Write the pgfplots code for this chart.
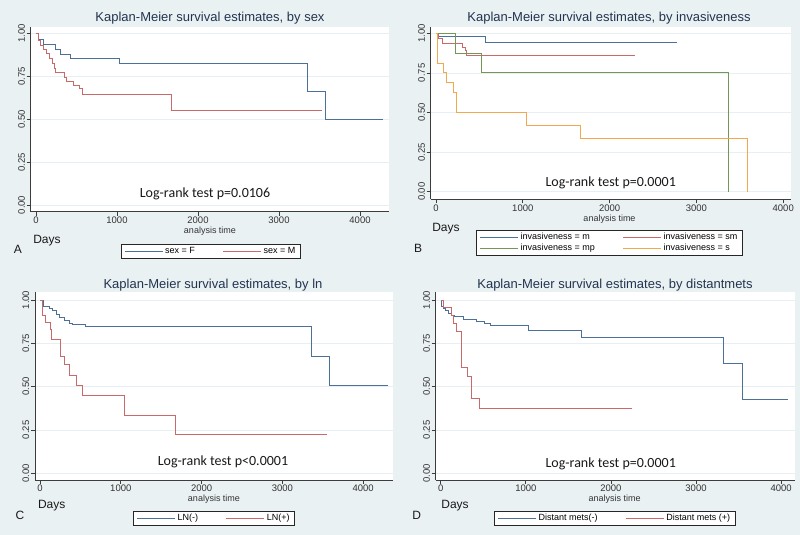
\documentclass[border=0pt]{standalone}
\usepackage{pgfplots}
\pgfplotsset{compat=1.18}
\usepackage{fontspec}
\setmainfont{Liberation Sans}
\newfontfamily\calib{Carlito}
\definecolor{bgc}{RGB}{234,241,243}
\definecolor{gridc}{RGB}{232,239,242}
\definecolor{kmblue}{RGB}{76,112,152}
\definecolor{kmred}{RGB}{200,106,106}
\definecolor{kmgreen}{RGB}{118,150,88}
\definecolor{kmorange}{RGB}{242,168,78}
\definecolor{titc}{RGB}{35,52,80}
\definecolor{axc}{RGB}{60,60,60}
\pgfplotsset{kmaxis/.style={
  scale only axis, anchor=south west,
  axis x line*=bottom, axis y line*=left,
  axis line style={-, axc, line width=0.8pt},
  axis background/.style={fill=white},
  tick align=outside, major tick length=4pt,
  tick style={axc, line width=0.8pt},
  xtick={0,1000,2000,3000,4000}, xticklabels={0,1000,2000,3000,4000},
  ytick={0,0.25,0.5,0.75,1}, yticklabels={0.00,0.25,0.50,0.75,1.00},
  /pgf/number format/assume math mode=true,
  yticklabel style={rotate=90, anchor=south, inner sep=1.5pt, font=\fontsize{9.5}{11}\selectfont, text=black!80},
  xticklabel style={inner sep=1pt, font=\fontsize{9.5}{11}\selectfont, text=black!80},
  ymajorgrids, major grid style={gridc, line width=0.8pt},
  legend cell align=left,
  legend style={draw=black!85, line width=0.7pt, fill=white, font=\fontsize{9}{10}\selectfont,
    legend columns=2, anchor=center, inner ysep=1pt, row sep=-1pt,
    /tikz/every even column/.append style={column sep=26pt}},
  legend image code/.code={\draw[#1, line width=0.8pt] (0pt,0pt) -- (38pt,0pt);},
  every axis plot/.append style={const plot, line width=1pt, mark=none},
}}
\begin{document}
\begin{tikzpicture}
\fill[bgc] (0,0) rectangle (800pt,535pt);
\useasboundingbox (0,0) rectangle (800pt,535pt);
% Panel A
\begin{axis}[kmaxis, at={(30.7pt,323.3pt)}, width=358.3pt, height=184.7pt,
  xmin=-65, xmax=4358, ymin=-0.039, ymax=1.037,
  legend style={at={(axis description cs:0.503,-0.214)}}]
\addplot[kmblue] coordinates {(0,1)(30,0.963)(95,0.936)(247,0.905)(300,0.876)(428,0.855)(1037,0.827)(3346,0.663)(3572,0.498)(4290,0.498)};
\addlegendentry{sex = F}
\addplot[kmred] coordinates {(0,1)(29,0.957)(62,0.932)(99,0.907)(132,0.883)(173,0.854)(201,0.823)(226,0.796)(247,0.77)(358,0.744)(379,0.718)(461,0.699)(535,0.68)(576,0.642)(1675,0.553)(3535,0.553)};
\addlegendentry{sex = M}
\end{axis}
% Panel B
\begin{axis}[kmaxis, at={(430.7pt,335.7pt)}, width=360pt, height=172.6pt,
  xmin=-61, xmax=4086, ymin=-0.048, ymax=1.042,
  legend style={at={(axis description cs:0.497,-0.253)}}]
\addplot[kmblue] coordinates {(0,1)(20,0.983)(565,0.94)(2780,0.94)};
\addlegendentry{invasiveness = m}
\addplot[kmred] coordinates {(0,1)(27,0.968)(73,0.937)(307,0.911)(342,0.89)(353,0.857)(2293,0.857)};
\addlegendentry{invasiveness = sm}
\addplot[kmgreen] coordinates {(0,1)(230,0.875)(526,0.75)(3372,0)};
\addlegendentry{invasiveness = mp}
\addplot[kmorange] coordinates {(0,1)(15,0.8125)(92,0.75)(123,0.6875)(200,0.625)(238,0.5)(1037,0.4167)(1667,0.3333)(3590,0)};
\addlegendentry{invasiveness = s}
\end{axis}
% Panel C
\begin{axis}[kmaxis, at={(35pt,55pt)}, width=358.3pt, height=188.3pt,
  xmin=-62, xmax=4373, ymin=-0.039, ymax=1.048,
  legend style={at={(axis description cs:0.5,-0.202)}}]
\addplot[kmblue] coordinates {(0,1)(41,0.965)(115,0.952)(156,0.938)(206,0.919)(239,0.9)(301,0.88)(363,0.866)(404,0.86)(569,0.846)(3361,0.673)(3580,0.504)(4310,0.504)};
\addlegendentry{LN(-)}
\addplot[kmred] coordinates {(0,1)(25,0.913)(62,0.871)(124,0.831)(145,0.773)(256,0.673)(309,0.625)(371,0.567)(454,0.509)(528,0.446)(1040,0.336)(1671,0.225)(3548,0.225)};
\addlegendentry{LN(+)}
\end{axis}
% Panel D
\begin{axis}[kmaxis, at={(435.7pt,55pt)}, width=359.3pt, height=188.3pt,
  xmin=-59, xmax=4163, ymin=-0.039, ymax=1.048,
  legend style={at={(axis description cs:0.499,-0.202)}}]
\addplot[kmblue] coordinates {(0,1)(10,0.965)(31,0.952)(51,0.938)(89,0.923)(129,0.913)(156,0.904)(266,0.889)(423,0.875)(520,0.866)(579,0.85)(1029,0.823)(1649,0.785)(3321,0.631)(3544,0.423)(4085,0.423)};
\addlegendentry{Distant mets(-)}
\addplot[kmred] coordinates {(0,1)(31,0.958)(129,0.913)(148,0.866)(188,0.817)(247,0.61)(317,0.558)(364,0.433)(450,0.375)(2252,0.375)};
\addlegendentry{Distant mets (+)}
\end{axis}
% Titles
\begin{scope}[every node/.style={titc, font=\fontsize{13}{15}\selectfont}]
\node at (210pt,517pt) {Kaplan-Meier survival estimates, by sex};
\node at (609pt,517pt) {Kaplan-Meier survival estimates, by invasiveness};
\node at (213pt,250pt) {Kaplan-Meier survival estimates, by ln};
\node at (615pt,250pt) {Kaplan-Meier survival estimates, by distantmets};
\end{scope}
% analysis time
\begin{scope}[every node/.style={text=black!80, inner sep=0pt, font=\fontsize{9}{10}\selectfont}]
\node at (210pt,303.5pt) {analysis time};
\node at (609.5pt,316pt) {analysis time};
\node at (214pt,36pt) {analysis time};
\node at (614.7pt,36pt) {analysis time};
\end{scope}
% Days and letters
\begin{scope}[every node/.style={text=black!90, font=\fontsize{12}{14}\selectfont}]
\node at (47pt,294.3pt) {Days};
\node at (446pt,306pt) {Days};
\node at (51.7pt,29.3pt) {Days};
\node at (455pt,29.3pt) {Days};
\node at (18pt,286pt) {A};
\node at (418pt,287pt) {B};
\node at (20pt,20pt) {C};
\node at (416.7pt,20pt) {D};
\end{scope}
% Log-rank
\begin{scope}[every node/.style={text=black!90, font=\calib\fontsize{14}{16}\selectfont}]
\node at (205pt,341pt) {Log-rank test p=0.0106};
\node at (610.7pt,352.3pt) {Log-rank test p=0.0001};
\node at (223pt,73.3pt) {Log-rank test p<0.0001};
\node at (610.7pt,70.7pt) {Log-rank test p=0.0001};
\end{scope}
\end{tikzpicture}
\end{document}
